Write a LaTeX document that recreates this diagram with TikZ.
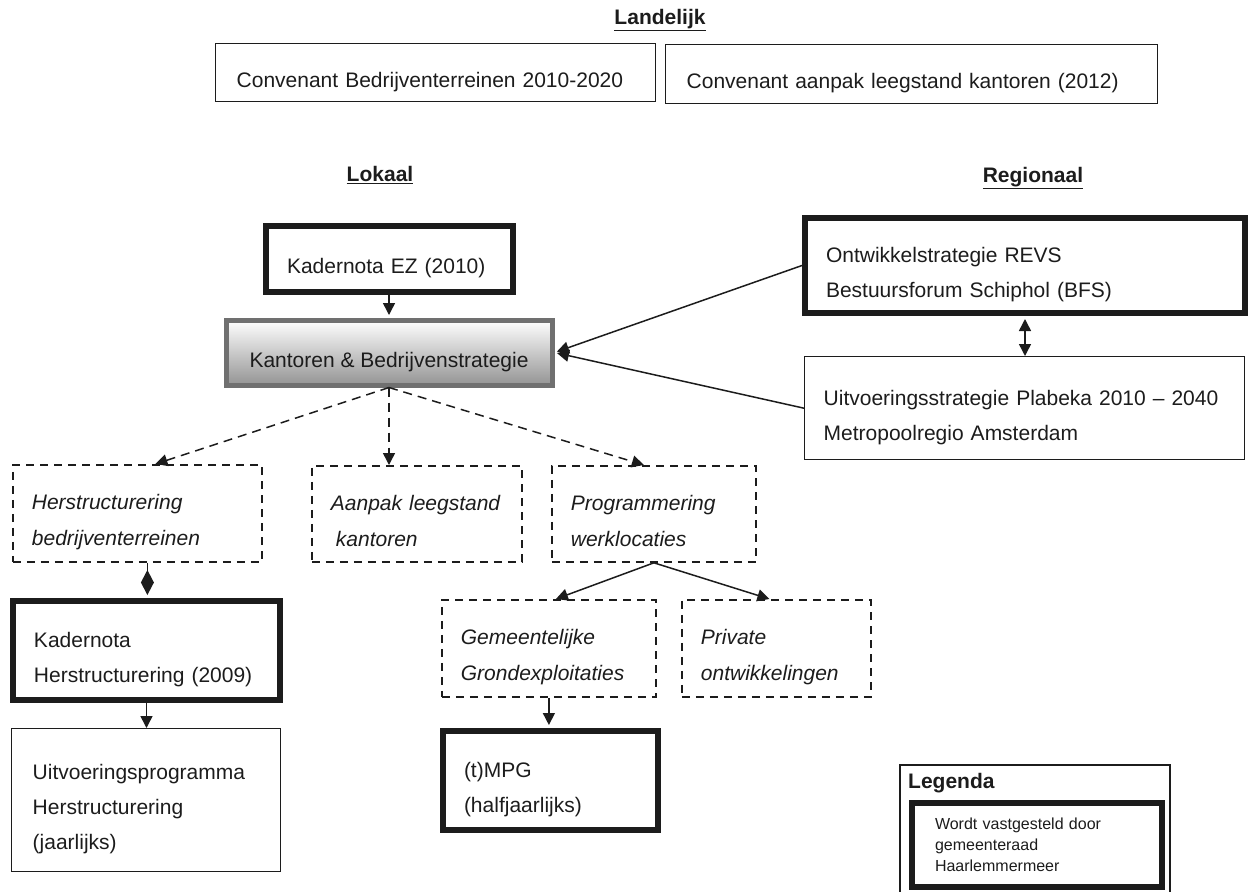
\documentclass[tikz,border=0pt]{standalone}
\usepackage{fontspec}
\setmainfont{Liberation Sans}
\usepackage{tikz}
\usetikzlibrary{arrows.meta, positioning, calc}
\definecolor{inkblack}{HTML}{1C1C1C}
\definecolor{framegray}{HTML}{707070}

\begin{document}
\begin{tikzpicture}[
        x=1pt, y=-1pt,
        txt/.style={
            anchor=north west,
            font=\fontsize{21}{35}\selectfont,
            text=inkblack,
            align=left,
            inner xsep=21pt,
            inner ysep=0pt
        },
        lowered/.style={
            execute at begin node={\rule{0pt}{35pt}},
            execute at end node={\rule[-6pt]{0pt}{6pt}}
        },
        thinbox/.style={txt, lowered, draw=inkblack, line width=1.4pt},
        thickbox/.style={txt, lowered, draw=inkblack, line width=6pt},
        dashbox/.style={
            txt, lowered,
            draw=inkblack,
            line width=1.8pt,
            dash pattern=on 8pt off 6pt,
            inner xsep=19pt,
            font=\fontsize{21}{36}\selectfont\itshape
        },
        stratbox/.style={
            txt, lowered,
            align=center,
            draw=framegray,
            line width=5pt,
            top color=white,
            bottom color=black!42
        },
        keybox/.style={txt, draw=inkblack, line width=6pt, inner xsep=23pt, font=\fontsize{16}{21}\selectfont},
        heading/.style={font=\fontsize{21}{25}\selectfont\bfseries, text=inkblack},
        link/.style={draw=inkblack, line width=1.5pt, -{Triangle[length=12pt, width=12pt]}},
        dashlink/.style={link, dash pattern=on 9pt off 6pt}
    ]
    \useasboundingbox (0,0) rectangle (1254,892);

    % Landelijk niveau
    \node[heading] (landelijk) at (660,20) {\underline{Landelijk}};
    \node[thinbox, text width=398pt, minimum height=58pt] (convbt) at (215,43) {Convenant Bedrijventerreinen 2010-2020};
    \node[thinbox, text width=450pt, minimum height=59pt] (convleeg) at (665,44) {Convenant aanpak leegstand kantoren (2012)};

    % Lokaal en regionaal
    \node[heading] (lokaal) at (380,175) {\underline{Lokaal}};
    \node[heading] (regionaal) at (1033,178) {\underline{Regionaal}};

    % Kadernota EZ (dik kader)
    \node[thickbox, text width=205pt, minimum height=66pt] (kadez) at (263,223) {Kadernota EZ (2010)};

    % Centrale strategie
    \node[stratbox, minimum width=326pt, minimum height=65pt] (kantoren) at (223.5,317.5) {Kantoren \& Bedrijvenstrategie};

    % Regionale kaders
    \node[thickbox, text width=398pt, minimum height=95pt] (ontw) at (802,215) {
        Ontwikkelstrategie REVS\\
        Bestuursforum Schiphol (BFS)
    };
    \node[thinbox, inner xsep=19pt, text width=402pt, minimum height=103pt] (uitv) at (804,356) {
        Uitvoeringsstrategie Plabeka 2010 -- 2040\\
        Metropoolregio Amsterdam
    };

    % Uitwerkingen (gestippeld)
    \node[dashbox, text width=211pt, minimum height=97pt] (herstr) at (12,464) {Herstructurering\\ bedrijventerreinen};
    \node[dashbox, text width=172pt, minimum height=96pt] (aanpak) at (311,465) {Aanpak leegstand\\ \hspace*{5pt}kantoren};
    \node[dashbox, text width=166pt, minimum height=96pt] (prog) at (551,465) {Programmering\\ werklocaties};
    \node[dashbox, text width=176pt, minimum height=97pt] (gem) at (441,599) {Gemeentelijke\\ Grondexploitaties};
    \node[dashbox, text width=151pt, minimum height=97pt] (priv) at (681,599) {Private\\ ontwikkelingen};

    % Vastgestelde documenten
    \node[thickbox, text width=225pt, minimum height=99pt] (kaderh) at (10,598) {Kadernota\\ Herstructurering (2009)};
    \node[thinbox, text width=227pt, minimum height=143pt] (uitvp) at (11,728) {
        Uitvoeringsprogramma\\
        Herstructurering\\
        (jaarlijks)
    };
    \node[thickbox, text width=173pt, minimum height=99pt] (tmpg) at (440,728) {(t)MPG\\ (halfjaarlijks)};

    % Legenda
    \node[heading, anchor=west, inner sep=2pt] (legtitel) at (906,783) {Legenda};
    \node[keybox, text width=204pt, minimum height=84pt] (legkader) at (909,800) {
        Wordt vastgesteld door\\
        gemeenteraad\\
        Haarlemmermeer
    };
    \draw[inkblack, line width=1.4pt] (900,892) |- (1170,765) -- (1170,892);

    % Verbindingen
    \draw[link, shorten >=2.5pt] (kantoren.north |- kadez.south) -- (kantoren.north);
    \draw[link, shorten >=2.5pt] (ontw.west) -- (kantoren.east);
    \draw[link, shorten >=2.5pt] (uitv.west) -- (kantoren.east);
    \draw[link, {Triangle[length=12pt, width=12pt]}-{Triangle[length=12pt, width=12pt]}, shorten <=3pt]
        (ontw.south) -- (ontw.south |- uitv.north);

    \draw[dashlink] (kantoren.south) -- ([xshift=18pt]herstr.north);
    \draw[dashlink] (kantoren.south) -- (kantoren.south |- aanpak.north);
    \draw[dashlink] (kantoren.south) -- ([xshift=-10pt]prog.north);

    \draw[link, -{Diamond[length=25pt, width=13pt]}, shorten >=3pt]
        ([xshift=10pt]herstr.south) -- ([xshift=10pt]herstr.south |- kaderh.north);
    \draw[link] (kaderh.south) -- (kaderh.south |- uitvp.north);
    \draw[link] (prog.south) -- ([xshift=7pt]gem.north);
    \draw[link] (prog.south) -- ([xshift=-7pt]priv.north);
    \draw[link, shorten >=3pt] (gem.south) -- (gem.south |- tmpg.north);

\end{tikzpicture}
\end{document}
